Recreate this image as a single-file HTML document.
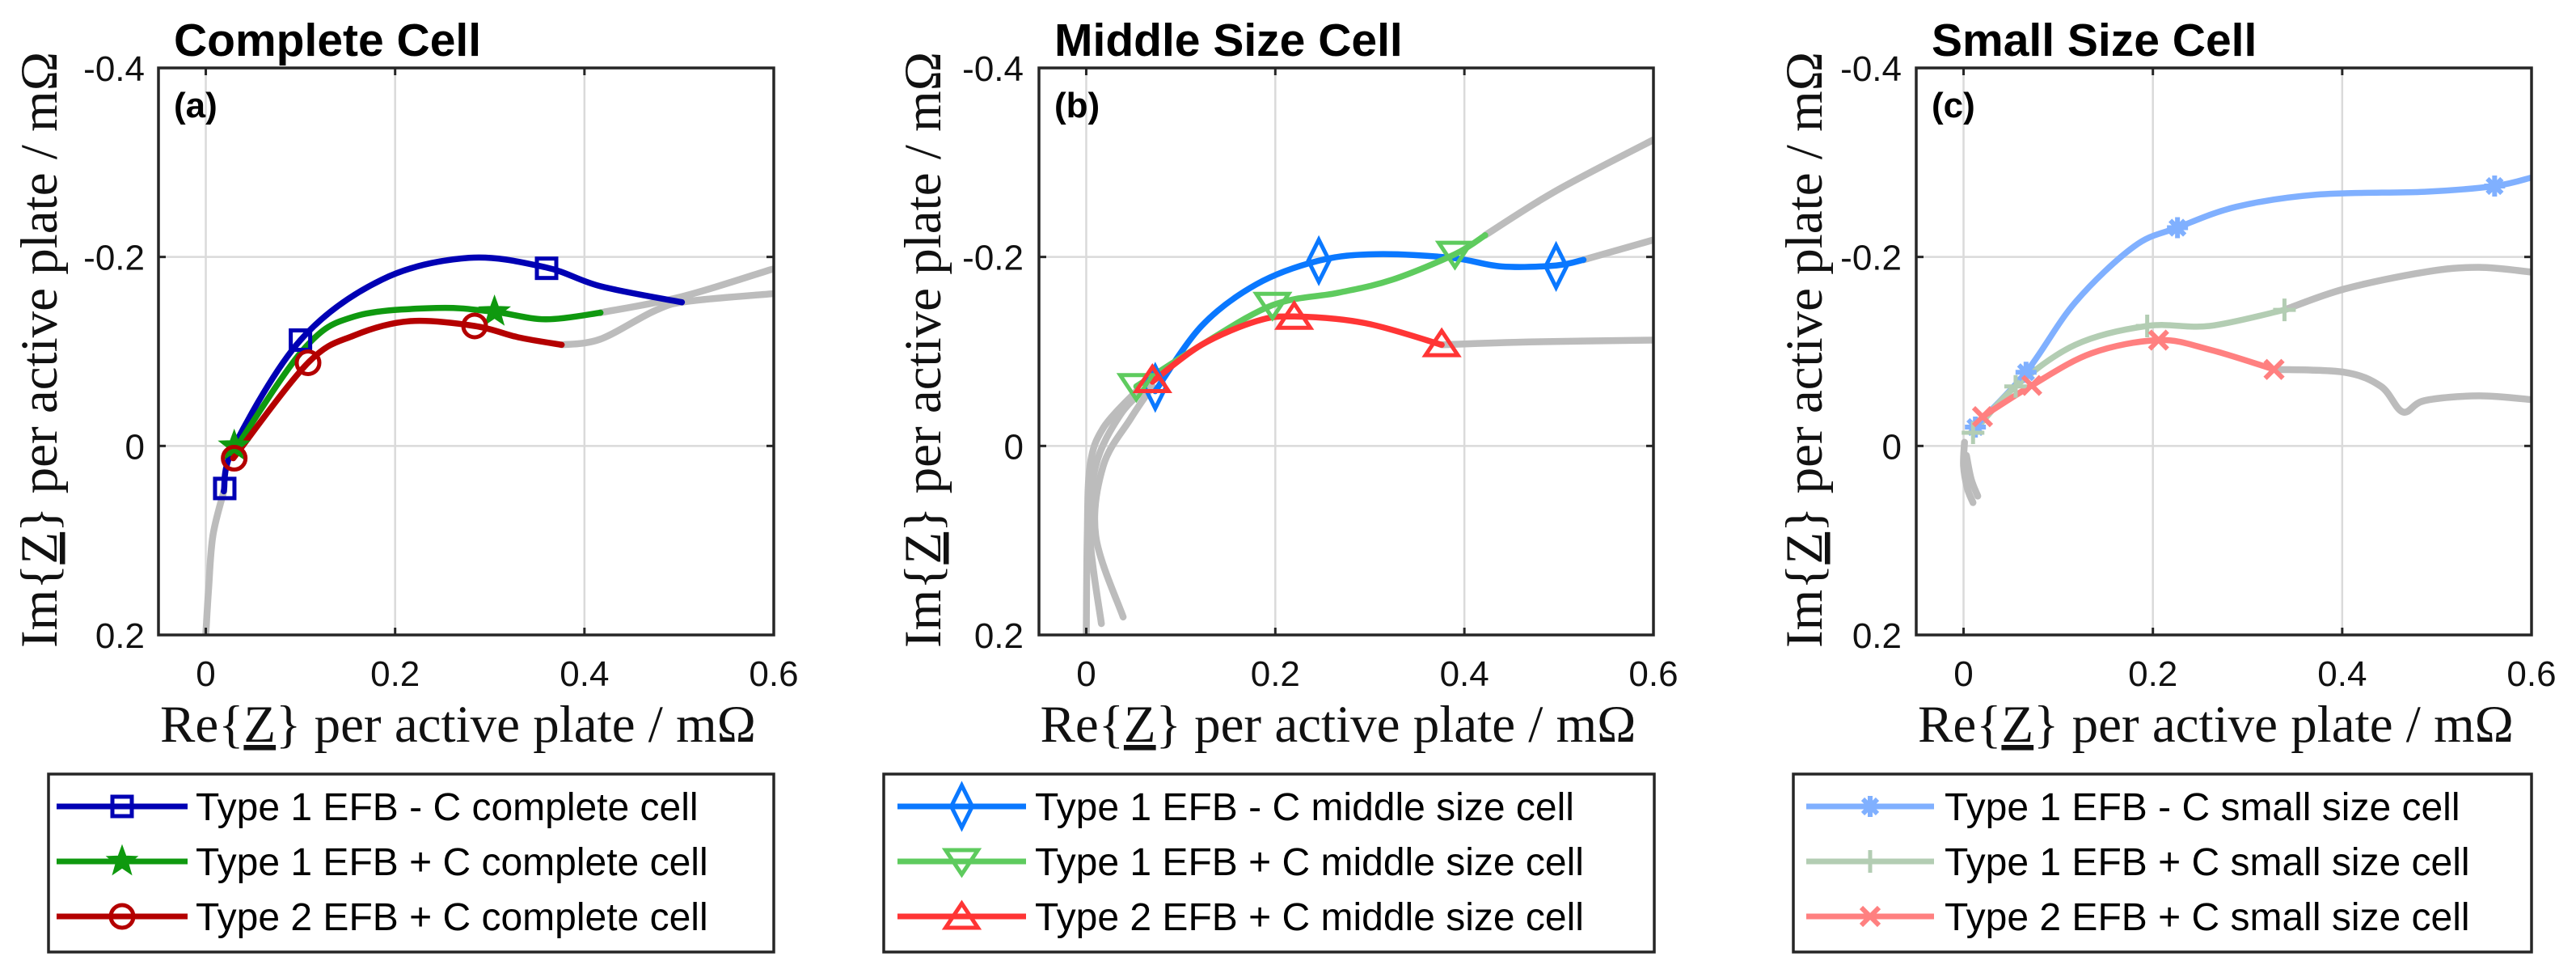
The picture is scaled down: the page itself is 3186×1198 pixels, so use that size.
<!DOCTYPE html>
<html><head><meta charset="utf-8"><style>
html,body{margin:0;padding:0;background:#fff;}
svg{display:block;}
.tick{font-family:"Liberation Sans",sans-serif;font-size:44px;fill:#111;}
.axl{font-family:"Liberation Serif",serif;font-size:65px;fill:#111;}
.ttl{font-family:"Liberation Sans",sans-serif;font-size:57px;font-weight:bold;fill:#000;}
.lab{font-family:"Liberation Sans",sans-serif;font-size:44px;font-weight:bold;fill:#000;}
.leg{font-family:"Liberation Sans",sans-serif;font-size:48px;fill:#000;}
</style></head><body>
<svg id="fig" width="3186" height="1198" viewBox="0 0 3186 1198" xmlns="http://www.w3.org/2000/svg"></svg>
<script>
const xTicks=[0,0.2,0.4,0.6];
const yTicks=[-0.4,-0.2,0,0.2];
const xTickLabels=["0","0.2","0.4","0.6"];
const yTickLabels=["-0.4","-0.2","0","0.2"];
const titles=["Complete Cell","Middle Size Cell","Small Size Cell"];
const panelTags=["(a)","(b)","(c)"];
// panel a
const aBlueX=[0.019,0.03,0.1,0.186,0.278,0.359,0.417,0.503];
const aBlueY=[0.048,0.0,-0.112,-0.176,-0.199,-0.189,-0.169,-0.152];
const aBlueMX=[0.02,0.1,0.36]; const aBlueMY=[0.045,-0.112,-0.188];
const aGreenX=[0.028,0.103,0.157,0.244,0.304,0.359,0.417];
const aGreenY=[0.008,-0.102,-0.137,-0.146,-0.142,-0.134,-0.141];
const aGreenMX=[0.03,0.305]; const aGreenMY=[0.0,-0.142];
const aRedX=[0.029,0.108,0.157,0.215,0.284,0.33,0.376];
const aRedY=[0.013,-0.088,-0.117,-0.132,-0.127,-0.115,-0.107];
const aRedMX=[0.03,0.108,0.284]; const aRedMY=[0.013,-0.088,-0.127];
const aGray1X=[0,0.003,0.0075,0.019]; const aGray1Y=[0.2,0.15,0.095,0.048];
const aGray2X=[0.376,0.417,0.474,0.509,0.598]; const aGray2Y=[-0.107,-0.113,-0.143,-0.153,-0.161];
const aGray3X=[0.417,0.503,0.598]; const aGray3Y=[-0.141,-0.158,-0.187];
// panel b
const bBlueX=[0.073,0.122,0.18,0.246,0.307,0.387,0.439,0.497,0.526];
const bBlueY=[-0.058,-0.127,-0.171,-0.196,-0.203,-0.199,-0.19,-0.191,-0.197];
const bBlueMX=[0.073,0.246,0.497]; const bBlueMY=[-0.062,-0.196,-0.19];
const bGreenX=[0.053,0.122,0.197,0.266,0.324,0.39,0.422];
const bGreenY=[-0.063,-0.107,-0.149,-0.162,-0.176,-0.203,-0.223];
const bGreenMX=[0.053,0.197,0.39]; const bGreenMY=[-0.063,-0.149,-0.203];
const bRedX=[0.07,0.122,0.18,0.22,0.295,0.376];
const bRedY=[-0.068,-0.107,-0.132,-0.137,-0.13,-0.107];
const bRedMX=[0.07,0.22,0.376]; const bRedMY=[-0.07,-0.137,-0.108];
const bGray1X=[0,0.001,0.004,0.018,0.053]; const bGray1Y=[0.2,0.1,0.021,-0.019,-0.058];
const bGray2X=[0.016,0.004,0.01,0.036,0.065]; const bGray2Y=[0.188,0.095,0.021,-0.033,-0.063];
const bGray3X=[0.039,0.01,0.018,0.047,0.07]; const bGray3Y=[0.181,0.095,0.021,-0.029,-0.063];
const bGray4X=[0.422,0.497,0.6]; const bGray4Y=[-0.223,-0.27,-0.324];
const bGray5X=[0.526,0.6]; const bGray5Y=[-0.197,-0.218];
const bGray6X=[0.376,0.468,0.6]; const bGray6Y=[-0.107,-0.11,-0.112];
// panel c
const cBlueX=[0.0125,0.066,0.118,0.18,0.226,0.288,0.373,0.487,0.561,0.6];
const cBlueY=[-0.021,-0.078,-0.152,-0.211,-0.231,-0.253,-0.266,-0.269,-0.275,-0.284];
const cBlueMX=[0.0125,0.066,0.226,0.561]; const cBlueMY=[-0.02,-0.078,-0.231,-0.275];
const cGreenX=[0.01,0.055,0.118,0.194,0.26,0.339];
const cGreenY=[-0.014,-0.063,-0.107,-0.127,-0.127,-0.144];
const cGreenMX=[0.01,0.055,0.194,0.339]; const cGreenMY=[-0.014,-0.063,-0.127,-0.144];
const cRedX=[0.02,0.072,0.135,0.206,0.26,0.328];
const cRedY=[-0.031,-0.064,-0.098,-0.112,-0.102,-0.081];
const cRedMX=[0.02,0.072,0.206,0.328]; const cRedMY=[-0.031,-0.064,-0.112,-0.081];
const cGray1X=[0.339,0.402,0.487,0.544,0.6]; const cGray1Y=[-0.144,-0.166,-0.184,-0.189,-0.184];
const cGray2X=[0.328,0.402,0.441,0.464,0.487,0.544,0.6]; const cGray2Y=[-0.081,-0.078,-0.063,-0.036,-0.048,-0.053,-0.049];
const cGray3X=[0.001,0,0.004,0.01]; const cGray3Y=[-0.004,0.021,0.045,0.06];
const cGray4X=[0.003,0.008,0.015]; const cGray4Y=[0.01,0.035,0.053];

const NS="http://www.w3.org/2000/svg";
const svg=document.getElementById('fig');
function mk(tag,attrs,parent){const e=document.createElementNS(NS,tag);for(const k in attrs)e.setAttribute(k,attrs[k]);(parent||svg).appendChild(e);return e;}

const panels=[
 {L:196,R:957,T:84,B:785,ylab:48,ytr:179,legL:60,legR:957,lineL:70,lineR:232,textX:242,
  series:[
   {x:aBlueX,y:aBlueY,mx:aBlueMX,my:aBlueMY,c:"#0000b4",m:"square",n:"Type 1 EFB - C complete cell"},
   {x:aGreenX,y:aGreenY,mx:aGreenMX,my:aGreenMY,c:"#0f990f",m:"star",n:"Type 1 EFB + C complete cell"},
   {x:aRedX,y:aRedY,mx:aRedMX,my:aRedMY,c:"#b40000",m:"circle",n:"Type 2 EFB + C complete cell"}],
  gray:[[aGray1X,aGray1Y],[aGray2X,aGray2Y],[aGray3X,aGray3Y]]},
 {L:1285,R:2045,T:84,B:785,ylab:1141,ytr:1266,legL:1093,legR:2046,lineL:1110,lineR:1269,textX:1280,
  series:[
   {x:bBlueX,y:bBlueY,mx:bBlueMX,my:bBlueMY,c:"#0a78ff",m:"diamond",n:"Type 1 EFB - C middle size cell"},
   {x:bGreenX,y:bGreenY,mx:bGreenMX,my:bGreenMY,c:"#5ecb5e",m:"tridown",n:"Type 1 EFB + C middle size cell"},
   {x:bRedX,y:bRedY,mx:bRedMX,my:bRedMY,c:"#ff3535",m:"triup",n:"Type 2 EFB + C middle size cell"}],
  gray:[[bGray1X,bGray1Y],[bGray2X,bGray2Y],[bGray3X,bGray3Y],[bGray4X,bGray4Y],[bGray5X,bGray5Y],[bGray6X,bGray6Y]]},
 {L:2370,R:3131,T:84,B:785,ylab:2231,ytr:2352,legL:2218,legR:3131,lineL:2234,lineR:2392,textX:2405,
  series:[
   {x:cBlueX,y:cBlueY,mx:cBlueMX,my:cBlueMY,c:"#80b0ff",m:"asterisk",n:"Type 1 EFB - C small size cell"},
   {x:cGreenX,y:cGreenY,mx:cGreenMX,my:cGreenMY,c:"#b3cdb3",m:"plus",n:"Type 1 EFB + C small size cell"},
   {x:cRedX,y:cRedY,mx:cRedMX,my:cRedMY,c:"#ff8080",m:"cross",n:"Type 2 EFB + C small size cell"}],
  gray:[[cGray1X,cGray1Y],[cGray2X,cGray2Y],[cGray3X,cGray3Y],[cGray4X,cGray4Y]]}
];

function smooth(pts){
  if(pts.length<3){return "M"+pts.map(p=>p[0].toFixed(1)+","+p[1].toFixed(1)).join(" L");}
  let d="M"+pts[0][0].toFixed(1)+","+pts[0][1].toFixed(1);
  for(let i=0;i<pts.length-1;i++){
    const p0=pts[Math.max(0,i-1)],p1=pts[i],p2=pts[i+1],p3=pts[Math.min(pts.length-1,i+2)];
    const c1=[p1[0]+(p2[0]-p0[0])/6,p1[1]+(p2[1]-p0[1])/6];
    const c2=[p2[0]-(p3[0]-p1[0])/6,p2[1]-(p3[1]-p1[1])/6];
    d+=" C"+c1[0].toFixed(1)+","+c1[1].toFixed(1)+" "+c2[0].toFixed(1)+","+c2[1].toFixed(1)+" "+p2[0].toFixed(1)+","+p2[1].toFixed(1);
  }
  return d;
}

function marker(g,type,cx,cy,c){
  const sw=5;
  if(type==="square"){mk('rect',{x:cx-12,y:cy-12,width:24,height:24,fill:"none",stroke:c,"stroke-width":sw},g);}
  else if(type==="circle"){mk('circle',{cx:cx,cy:cy,r:14,fill:"none",stroke:c,"stroke-width":sw},g);}
  else if(type==="diamond"){mk('polygon',{points:`${cx},${cy-26} ${cx+13},${cy} ${cx},${cy+26} ${cx-13},${cy}`,fill:"none",stroke:c,"stroke-width":sw},g);}
  else if(type==="tridown"){mk('polygon',{points:`${cx-20},${cy-14} ${cx+20},${cy-14} ${cx},${cy+16}`,fill:"none",stroke:c,"stroke-width":sw},g);}
  else if(type==="triup"){mk('polygon',{points:`${cx-20},${cy+14} ${cx+20},${cy+14} ${cx},${cy-16}`,fill:"none",stroke:c,"stroke-width":sw},g);}
  else if(type==="star"){let p=[];for(let i=0;i<10;i++){const r=i%2?7:17,a=-Math.PI/2+i*Math.PI/5;p.push((cx+r*Math.cos(a)).toFixed(1)+","+(cy+r*Math.sin(a)).toFixed(1));}
    mk('polygon',{points:p.join(" "),fill:c,stroke:c,"stroke-width":3},g);}
  else if(type==="plus"){mk('path',{d:`M${cx-14},${cy}H${cx+14}M${cx},${cy-14}V${cy+14}`,stroke:c,"stroke-width":sw,fill:"none"},g);}
  else if(type==="cross"){mk('path',{d:`M${cx-11},${cy-11}L${cx+11},${cy+11}M${cx-11},${cy+11}L${cx+11},${cy-11}`,stroke:c,"stroke-width":sw+1,fill:"none"},g);}
  else if(type==="asterisk"){mk('path',{d:`M${cx-13},${cy}H${cx+13}M${cx},${cy-13}V${cy+13}M${cx-9},${cy-9}L${cx+9},${cy+9}M${cx-9},${cy+9}L${cx+9},${cy-9}`,stroke:c,"stroke-width":sw+1,fill:"none"},g);}
}

panels.forEach((P,pi)=>{
  const g=mk('g',{});
  
  
  const sx=v=>P.L+(v+0.05)/0.65*(P.R-P.L);
  const sy=v=>P.T+(v+0.4)/0.6*(P.B-P.T);
  xTicks.forEach(t=>{const l=mk('line',{x1:sx(t),x2:sx(t),y1:P.T,y2:P.B,stroke:"#dadada","stroke-width":2.5},g);
    });
  yTicks.forEach(t=>{const l=mk('line',{x1:P.L,x2:P.R,y1:sy(t),y2:sy(t),stroke:"#dadada","stroke-width":2.5},g);
    });
  const cp=mk('clipPath',{id:'clip'+pi},g);mk('rect',{x:P.L,y:P.T,width:P.R-P.L,height:P.B-P.T},cp);
  const pg=mk('g',{'clip-path':`url(#clip${pi})`},g);
  P.gray.forEach(gs=>{const pts=gs[0].map((v,i)=>[sx(v),sy(gs[1][i])]);
    const p=mk('path',{d:smooth(pts),fill:"none",stroke:"#bcbcbc","stroke-width":8.5,"stroke-linecap":"round"},pg);
    });
  P.series.forEach((s,si)=>{const pts=s.x.map((v,i)=>[sx(v),sy(s.y[i])]);
    const p=mk('path',{d:smooth(pts),fill:"none",stroke:s.c,"stroke-width":7.5,"stroke-linecap":"round"},pg);
    });
  P.series.forEach((s,si)=>{s.mx.forEach((v,i)=>{const mg=mk('g',{},pg);
    
    marker(mg,s.m,sx(v),sy(s.my[i]),s.c);});});
  const box=mk('rect',{x:P.L,y:P.T,width:P.R-P.L,height:P.B-P.T,fill:"none",stroke:"#262626","stroke-width":3.5},g);
  
  xTicks.forEach((t,i)=>{mk('line',{x1:sx(t),x2:sx(t),y1:P.B,y2:P.B-9,stroke:"#262626","stroke-width":3},g);
    mk('line',{x1:sx(t),x2:sx(t),y1:P.T,y2:P.T+9,stroke:"#262626","stroke-width":3},g);
    const tx=mk('text',{x:sx(t),y:848,"text-anchor":"middle",class:"tick"},g);tx.textContent=xTickLabels[i];
    });
  yTicks.forEach((t,i)=>{mk('line',{x1:P.L,x2:P.L+9,y1:sy(t),y2:sy(t),stroke:"#262626","stroke-width":3},g);
    mk('line',{x1:P.R,x2:P.R-9,y1:sy(t),y2:sy(t),stroke:"#262626","stroke-width":3},g);
    const tx=mk('text',{x:P.ytr,y:sy(t)+16,"text-anchor":"end",class:"tick"},g);tx.textContent=yTickLabels[i];
    });
  const tt=mk('text',{x:P.L+19,y:69,class:"ttl"},g);tt.textContent=titles[pi];
  
  const tg=mk('text',{x:P.L+19,y:145,class:"lab"},g);tg.textContent=panelTags[pi];
  
  const xl=mk('text',{x:(P.L+P.R)/2-10,y:917,"text-anchor":"middle",class:"axl"},g);
  xl.innerHTML='Re{<tspan text-decoration="underline">Z</tspan>} per active plate / mΩ';
  
  const yl=mk('text',{x:0,y:0,"text-anchor":"middle",class:"axl",transform:`translate(${P.ylab+22},${(P.T+P.B)/2-2}) rotate(-90)`},g);
  yl.innerHTML='Im{<tspan text-decoration="underline">Z</tspan>} per active plate / mΩ';
  
  const lg=mk('g',{},g);
  
  mk('rect',{x:P.legL,y:957,width:P.legR-P.legL,height:220,fill:"#fff",stroke:"#262626","stroke-width":3.5},lg);
  const rows=[997,1065,1133];
  P.series.forEach((s,si)=>{const eg=mk('g',{},lg);
    
    mk('line',{x1:P.lineL,x2:P.lineR,y1:rows[si],y2:rows[si],stroke:s.c,"stroke-width":7},eg);
    marker(eg,s.m,(P.lineL+P.lineR)/2,rows[si],s.c);
    const t=mk('text',{x:P.textX,y:rows[si]+17,class:"leg"},eg);t.textContent=s.n;
    const avail=P.legR-P.textX-14; const w=t.getComputedTextLength();
    if(w>avail)t.setAttribute('textLength',avail);
  });
});
</script>
</body></html>
